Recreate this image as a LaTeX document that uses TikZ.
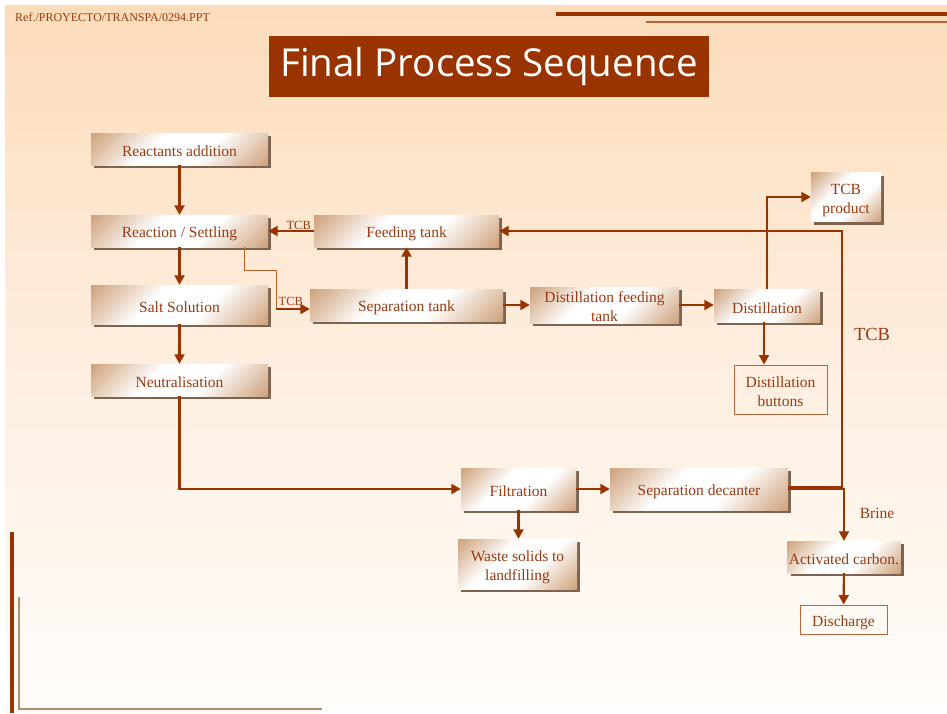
\documentclass[tikz,border=0pt]{standalone}
\usepackage{fontspec}
\setmainfont{Liberation Serif}
\newfontfamily\titlefont{Open Sans}
\usetikzlibrary{arrows.meta,shadows}
\definecolor{ln}{HTML}{993300}
\definecolor{txt}{HTML}{9A3A12}
\definecolor{tanc}{HTML}{C9976D}
\definecolor{shad}{HTML}{7D6450}
\definecolor{bord}{HTML}{B8643C}
\definecolor{thinc}{HTML}{C0602A}
\definecolor{bgtop}{HTML}{FCDCBA}
\definecolor{bgmid}{HTML}{FEEEDF}
\definecolor{bgbot}{HTML}{FFFDFB}
\definecolor{deco}{HTML}{B0906C}
\pgfdeclareverticalshading{boxsh}{100bp}{color(0bp)=(tanc); color(12bp)=(tanc); color(40bp)=(white); color(60bp)=(white); color(88bp)=(tanc); color(100bp)=(tanc)}
\newcommand\sx{\rule[-2pt]{0pt}{19pt}}
\tikzset{
  boxtxt/.style={text=txt, font=\fontsize{15.5}{19}\selectfont, align=center, inner sep=0pt},
  box/.style={boxtxt, shading=boxsh, shading angle=45,
    general shadow={fill=shad, shadow xshift=3pt, shadow yshift=-3pt}},
  pbox/.style={boxtxt, draw=bord, line width=1pt},
  arr/.style={draw=ln, line width=2.1pt, -{Triangle[length=9.5pt,width=10pt]}},
  thinln/.style={draw=thinc, line width=1pt},
  lbl/.style={text=txt, font=\fontsize{12.5}{14}\selectfont, inner sep=0.5pt},
}
\begin{document}
\begin{tikzpicture}[x=1pt,y=-1pt]
\useasboundingbox (0,0) rectangle (947,713);
\fill[white] (0,0) rectangle (947,713);
\shade[top color=bgtop, bottom color=bgbot, middle color=bgmid] (5,5) rectangle (947,713);
% decorations
\draw[ln, line width=3.5pt] (556,14) -- (947,14);
\draw[bord, line width=1.5pt] (646,22) -- (947,22);
\draw[ln, line width=3.5pt] (12,532) -- (12,713);
\draw[deco, line width=1.5pt] (19,597) -- (19,709) -- (322,709);
\node[anchor=west, text=txt, font=\fontsize{12}{13}\selectfont, inner sep=0] (ref) at (15,17) {Ref./PROYECTO/TRANSPA/0294.PPT};
% title
\node[fill=ln, text=white, minimum width=440pt, minimum height=61pt, font=\titlefont\fontsize{38.5}{44}\selectfont] (title) at (489,66.5) {\rule[-4pt]{0pt}{30pt}Final Process Sequence};
% boxes
\node[box, minimum width=177pt, minimum height=32pt] (react) at (179.5,149) {\sx Reactants addition};
\node[box, minimum width=177pt, minimum height=32pt] (rs) at (179.5,231) {\sx Reaction / Settling};
\node[box, minimum width=177pt, minimum height=39pt] (salt) at (179.5,304.5) {\sx Salt Solution};
\node[box, minimum width=177pt, minimum height=32pt] (neut) at (179.5,380) {\sx Neutralisation};
\node[box, minimum width=185pt, minimum height=32pt] (feed) at (406.5,231) {\sx Feeding tank};
\node[box, minimum width=193pt, minimum height=32pt] (sept) at (406.5,305) {\sx Separation tank};
\node[box, minimum width=149pt, minimum height=36pt] (dft) at (604.5,305) {\rule{0pt}{14pt}Distillation feeding\\tank};
\node[box, minimum width=106pt, minimum height=33pt] (dist) at (767,305.5) {\sx Distillation};
\node[box, minimum width=70pt, minimum height=49pt] (tcbp) at (846,197) {\sx TCB\\\sx product};
\node[pbox, minimum width=93pt, minimum height=49pt] (dbut) at (780.5,389.5) {\sx Distillation\\\sx buttons};
\node[box, minimum width=115pt, minimum height=42pt] (filt) at (518.5,489) {\sx Filtration};
\node[box, minimum width=178pt, minimum height=42pt] (sdec) at (699,489) {\sx Separation decanter};
\node[box, minimum width=119pt, minimum height=50pt] (waste) at (517.5,564) {\sx Waste solids to\\\sx landfilling};
\node[box, minimum width=113pt, minimum height=32pt] (ac) at (844,557) {\sx Activated carbon.};
\node[pbox, minimum width=87pt, minimum height=29pt] (disc) at (843.5,619.5) {\sx Discharge};
% free labels
\node[text=txt, font=\fontsize{18.5}{20}\selectfont, inner sep=0] (tcbbig) at (872,334) {TCB};
\node[text=txt, font=\fontsize{15.5}{18}\selectfont, inner sep=0] (brine) at (877,513) {Brine};
% coordinates
\coordinate (k1) at (276,270);
\coordinate (k2) at (276,309);
\coordinate (rc) at (842,231);
% connectors
\draw[arr] (react) -- (rs);
\draw[arr] (rs) -- (salt);
\draw[arr] (salt) -- (neut);
\draw[arr] (neut.south) |- (filt.west);
\draw[arr] (feed.west) -- node[lbl, above, pos=0.33] (l1) {TCB} (rs.east);
\draw[thinln] ([xshift=-24pt]rs.south east) |- (k1) -- (k2);
\draw[arr] (k2) -- node[lbl, above, pos=0.44, inner sep=2pt] (l2) {TCB} (k2 -| sept.west);
\draw[arr] (sept) -- (feed);
\draw[arr] (sept.east) -- (dft.west);
\draw[arr] (dft.east) -- (dft.east -| dist.west);
\draw[arr] (dist.north) |- (tcbp.west);
\draw[arr] ([xshift=-3pt]dist.south) -- ([xshift=-3pt]dist.south |- dbut.north);
\draw[arr] ([yshift=2pt]sdec.east) -| (rc) -- (feed.east);
\draw[arr] (sdec.east) -| (ac.north);
\draw[arr] (filt) -- (sdec);
\draw[arr] (filt.south) -- (filt.south |- waste.north);
\draw[arr] (ac) -- (disc);
\end{tikzpicture}
\end{document}
